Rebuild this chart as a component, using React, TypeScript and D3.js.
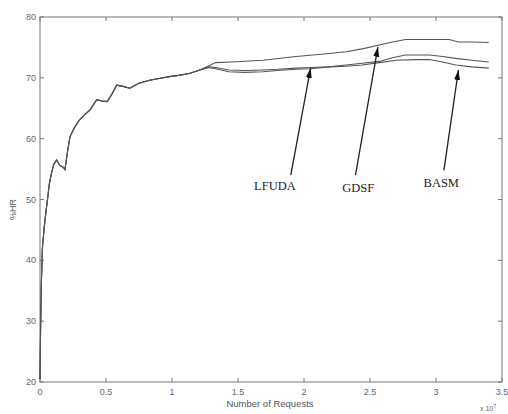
import React from 'react';
import * as d3 from 'd3';

// hit ratio curves, x in units of 1e7 requests
const commonStart: [number, number][] = [
  [0, 20.5], [0.004, 28], [0.01, 36], [0.018, 42], [0.03, 45], [0.045, 48], [0.058, 50.2],
  [0.07, 52.5], [0.088, 54.4], [0.105, 55.8], [0.126, 56.5], [0.15, 55.6], [0.175, 55.3],
  [0.189, 54.9], [0.21, 58.1], [0.227, 60.3], [0.26, 61.8], [0.3, 63.1], [0.34, 64],
  [0.378, 64.7], [0.43, 66.4], [0.47, 66.2], [0.51, 66.1], [0.55, 67.5], [0.58, 68.8],
  [0.63, 68.6], [0.68, 68.3], [0.75, 69.1], [0.83, 69.6], [0.9, 69.9], [0.98, 70.2],
  [1.05, 70.4], [1.13, 70.7], [1.2, 71.2],
];

const gdsf: [number, number][] = [
  [1.28, 72.0], [1.33, 72.5], [1.45, 72.6], [1.69, 72.9], [1.94, 73.5], [2.19, 74.0],
  [2.32, 74.3], [2.45, 74.8], [2.57, 75.4], [2.67, 75.9], [2.77, 76.3], [2.95, 76.3],
  [3.1, 76.3], [3.17, 75.9], [3.27, 75.9], [3.4, 75.8],
];

const lfuda: [number, number][] = [
  [1.28, 71.8], [1.33, 71.7], [1.43, 71.3], [1.55, 71.2], [1.69, 71.3], [1.8, 71.4],
  [1.94, 71.6], [2.05, 71.7], [2.19, 71.8], [2.32, 72.1], [2.44, 72.4], [2.57, 72.7],
  [2.67, 73.3], [2.77, 73.75], [2.95, 73.75], [3.05, 73.5], [3.15, 73.2], [3.27, 72.9],
  [3.4, 72.6],
];

const basm: [number, number][] = [
  [1.28, 71.7], [1.33, 71.5], [1.43, 71.0], [1.55, 70.9], [1.69, 71.0], [1.8, 71.2],
  [1.94, 71.4], [2.05, 71.5], [2.19, 71.8], [2.32, 71.9], [2.44, 72.1], [2.57, 72.5],
  [2.7, 72.9], [2.85, 73.0], [2.95, 73.0], [3.05, 72.6], [3.15, 72.1], [3.27, 71.8],
  [3.4, 71.6],
];

const xTicks = [0, 0.5, 1, 1.5, 2, 2.5, 3, 3.5];
const yTicks = [20, 30, 40, 50, 60, 70, 80];

// annotation labels: text position, arrow tail, arrow tip (data coords)
const labelNames = ['LFUDA', 'GDSF', 'BASM'];
const labelPos: [number, number][] = [[1.78, 52.2], [2.41, 51.9], [3.04, 52.7]];
const arrowTail: [number, number][] = [[1.9, 54.0], [2.39, 54.0], [3.06, 54.8]];
const arrowTip: [number, number][] = [[2.05, 71.6], [2.56, 75.1], [3.17, 71.3]];

const W = 508;
const H = 414;
const m = { left: 40, right: 6, top: 17, bottom: 32 };

export default function App() {
  const x = d3.scaleLinear().domain([0, 3.5]).range([m.left, W - m.right]);
  const y = d3.scaleLinear().domain([20, 80]).range([H - m.bottom, m.top]);
  const line = d3.line<[number, number]>().x(d => x(d[0])).y(d => y(d[1]));

  const series = [gdsf, lfuda, basm].map(s => commonStart.concat(s));
  const axisColor = '#777';
  const tickLen = 4;
  const x0 = x(0), x1 = x(3.5), y0 = y(20), y1 = y(80);

  return (
    <svg width={W} height={H} style={{ position: 'absolute', left: 0, top: 0, background: '#fff' }}
      fontFamily="'Liberation Sans', Arial, sans-serif">
      <defs>
        <marker id="head" viewBox="0 0 10 6" refX="10" refY="3" markerWidth="10" markerHeight="6"
          markerUnits="userSpaceOnUse" orient="auto">
          <path d="M0,0 L10,3 L0,6 Z" fill="#111" />
        </marker>
      </defs>
      <rect x={x0} y={y1} width={x1 - x0} height={y0 - y1} fill="none" stroke={axisColor} strokeWidth={1} />
      {xTicks.map(t => (
        <g key={'x' + t}>
          <line x1={x(t)} x2={x(t)} y1={y0} y2={y0 - tickLen} stroke={axisColor} />
          <line x1={x(t)} x2={x(t)} y1={y1} y2={y1 + tickLen} stroke={axisColor} />
          <text x={x(t)} y={y0 + 13} textAnchor="middle" fontSize={9} fill="#666">{t}</text>
        </g>
      ))}
      {yTicks.map(t => (
        <g key={'y' + t}>
          <line x1={x0} x2={x0 + tickLen} y1={y(t)} y2={y(t)} stroke={axisColor} />
          <line x1={x1} x2={x1 - tickLen} y1={y(t)} y2={y(t)} stroke={axisColor} />
          <text x={x0 - 4} y={y(t) + 3} textAnchor="end" fontSize={9} fill="#666">{t}</text>
        </g>
      ))}
      <text x={270} y={407} textAnchor="middle" fontSize={9.5} fill="#555">Number of Requests</text>
      <text x={480} y={411} fontSize={7} fill="#666">x 10<tspan dy={-3} fontSize={5.5}>7</tspan></text>
      <text transform={`translate(16,${(y0 + y1) / 2 + 10}) rotate(-90)`} textAnchor="middle" fontSize={9} fill="#555">%HR</text>

      {series.map((s, i) => (
        <path key={i} d={line(s) || ''} fill="none" stroke="#555" strokeWidth={1.1} />
      ))}

      {labelNames.map((name, i) => (
        <g key={name}>
          <line x1={x(arrowTail[i][0])} y1={y(arrowTail[i][1])} x2={x(arrowTip[i][0])} y2={y(arrowTip[i][1])}
            stroke="#222" strokeWidth={1.3} markerEnd="url(#head)" />
          <text x={x(labelPos[i][0])} y={y(labelPos[i][1]) + 4} textAnchor="middle"
            fontFamily="'Liberation Serif', 'Times New Roman', serif" fontSize={12.5} fill="#222">{name}</text>
        </g>
      ))}
    </svg>
  );
}
